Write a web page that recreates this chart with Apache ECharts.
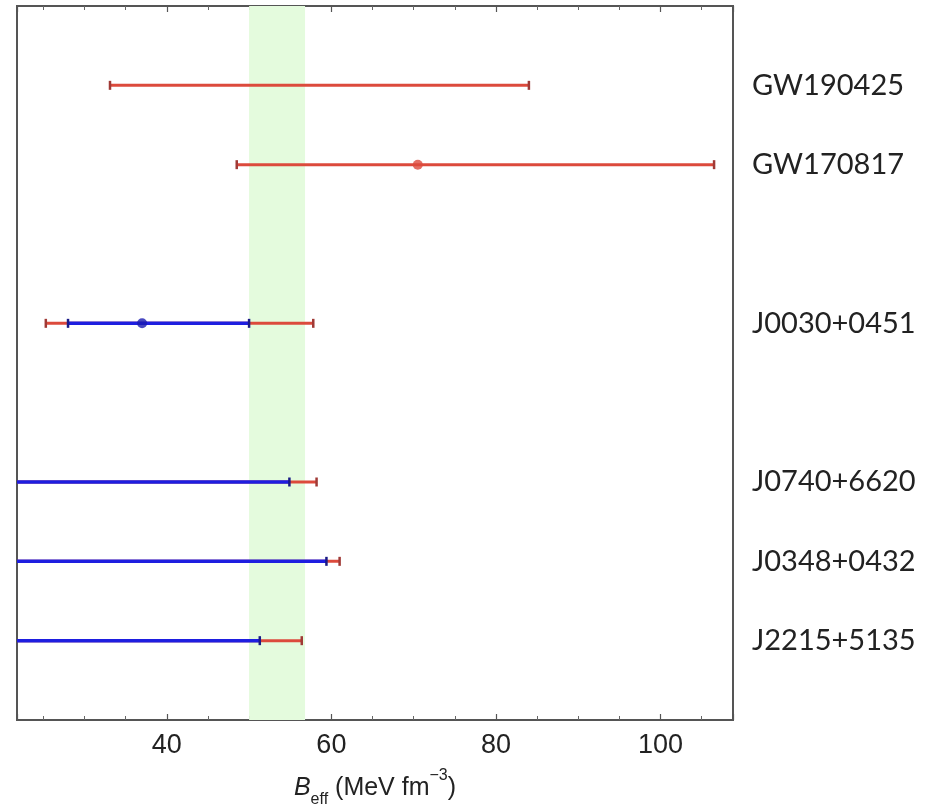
<!DOCTYPE html>
<html>
<head>
<meta charset="utf-8">
<script src="https://cdn.jsdelivr.net/npm/echarts@6/dist/echarts.min.js"></script>
<style>
  html, body { margin: 0; padding: 0; background: #ffffff; }
  #chart { width: 932px; height: 806px; }
</style>
</head>
<body>
<div id="chart"></div>
<script>
// Sources, bottom to top, with their row position on the vertical scale
const sources = ['J2215+5135', 'J0348+0432', 'J0740+6620', 'J0030+0451', 'GW170817', 'GW190425'];
const rows = [1, 2, 3, 5, 7, 8];

// Wide (red) intervals of B_eff; null = interval runs off the low end of the axis
const redLow  = [null, null, null, 25.3, 48.5, 33.1];
const redHigh = [56.4, 61.0, 58.2, 57.8, 106.5, 84.0];
const redCenter = [null, null, null, null, 70.5, null];

// Narrow (blue) intervals for the pulsars
const blueLow  = [null, null, null, 28.0, null, null];
const blueHigh = [51.3, 59.4, 54.9, 50.0, null, null];
const blueCenter = [null, null, null, 37.0, null, null];

// Shaded band of allowed B_eff
const band = [50.0, 56.8];

// Horizontal range
const xMin = 21.8, xMax = 108.8;

const RED = '#dc4a3c', RED_CAP = '#a03a36';
const BLUE = '#1e1ee0', BLUE_CAP = '#1a1a86';

function intervalRenderer(lows, highs, color, capColor, lineW) {
  return function (params, api) {
    const i = api.value(2);
    const lo = lows[i], hi = highs[i], y = rows[i];
    const cs = params.coordSys;
    const end = api.coord([hi, y]);
    const startX = lo == null ? cs.x : api.coord([lo, y])[0];
    const capH = 4.5;
    const children = [{
      type: 'line',
      shape: { x1: startX, y1: end[1], x2: end[0], y2: end[1] },
      style: { stroke: color, lineWidth: lineW }
    }];
    const caps = lo == null ? [end[0]] : [startX, end[0]];
    caps.forEach(function (cx) {
      children.push({
        type: 'line',
        shape: { x1: cx, y1: end[1] - capH, x2: cx, y2: end[1] + capH },
        style: { stroke: capColor, lineWidth: 2.5 }
      });
    });
    return { type: 'group', children: children };
  };
}

function intervalData(highs) {
  const out = [];
  highs.forEach(function (h, i) { if (h != null) out.push([h, rows[i], i]); });
  return out;
}
function centerData(centers) {
  const out = [];
  centers.forEach(function (c, i) { if (c != null) out.push([c, rows[i]]); });
  return out;
}

const baseX = {
  type: 'value',
  min: xMin,
  max: xMax,
  splitNumber: 5,
  axisLine: { show: false },
  splitLine: { show: false },
  axisTick: { show: true, inside: true, length: 6, lineStyle: { color: '#555', width: 1.2 } },
  minorTick: { show: true, splitNumber: 4, length: 4, lineStyle: { color: '#666', width: 1 } }
};

const option = {
  animation: false,
  backgroundColor: '#ffffff',
  grid: {
    left: 17, top: 6, width: 716, height: 714,
    outerBoundsMode: 'none',
    containLabel: false,
    show: true, borderColor: '#555555', borderWidth: 2, backgroundColor: 'transparent'
  },
  xAxis: [
    Object.assign({}, baseX, {
      position: 'bottom',
      axisLabel: {
        show: true, margin: 12, color: '#222', fontSize: 27,
        fontFamily: 'Liberation Sans, Arial, sans-serif',
        showMinLabel: false, showMaxLabel: false
      },
      name: '{b|B}{sub|eff}{t| (MeV fm}{sup|−3}{t|)}',
      nameLocation: 'middle',
      nameGap: 48,
      nameTextStyle: {
        rich: {
          b: { fontSize: 25, fontStyle: 'italic', fontFamily: 'Liberation Sans, Arial, sans-serif', color: '#222', lineHeight: 40, verticalAlign: 'middle' },
          t: { fontSize: 25, fontFamily: 'Liberation Sans, Arial, sans-serif', color: '#222', lineHeight: 40, verticalAlign: 'middle' },
          sub: { fontSize: 16, fontFamily: 'Liberation Sans, Arial, sans-serif', color: '#222', lineHeight: 22, verticalAlign: 'bottom' },
          sup: { fontSize: 16, fontFamily: 'Liberation Sans, Arial, sans-serif', color: '#222', lineHeight: 22, verticalAlign: 'top' }
        }
      }
    }),
    Object.assign({}, baseX, {
      position: 'top',
      axisLabel: { show: false }
    })
  ],
  yAxis: {
    type: 'value',
    min: 0,
    max: 9,
    interval: 1,
    position: 'right',
    axisLine: { show: false },
    axisTick: { show: false },
    splitLine: { show: false },
    axisLabel: {
      show: true,
      margin: 19,
      color: '#222',
      fontSize: 29,
      fontFamily: 'Lato, "Open Sans", sans-serif',
      formatter: function (v) {
        const k = rows.indexOf(v);
        return k >= 0 ? sources[k] : '';
      }
    }
  },
  series: [
    {
      type: 'scatter',
      data: [],
      silent: true,
      z: 1,
      markArea: {
        silent: true,
        itemStyle: { color: '#e4fbdd' },
        data: [[{ xAxis: band[0] }, { xAxis: band[1] }]]
      }
    },
    {
      type: 'custom',
      z: 3,
      clip: true,
      renderItem: intervalRenderer(redLow, redHigh, RED, RED_CAP, 3),
      encode: { x: 0, y: 1 },
      data: intervalData(redHigh)
    },
    {
      type: 'custom',
      z: 4,
      clip: true,
      renderItem: intervalRenderer(blueLow, blueHigh, BLUE, BLUE_CAP, 3.5),
      encode: { x: 0, y: 1 },
      data: intervalData(blueHigh)
    },
    {
      type: 'scatter',
      z: 5,
      symbolSize: 10,
      itemStyle: { color: RED },
      data: centerData(redCenter)
    },
    {
      type: 'scatter',
      z: 6,
      symbolSize: 10,
      itemStyle: { color: '#1a1ab0' },
      data: centerData(blueCenter)
    }
  ]
};

const chart = echarts.init(document.getElementById('chart'), null, { renderer: 'canvas' });
chart.setOption(option);
</script>
</body>
</html>
